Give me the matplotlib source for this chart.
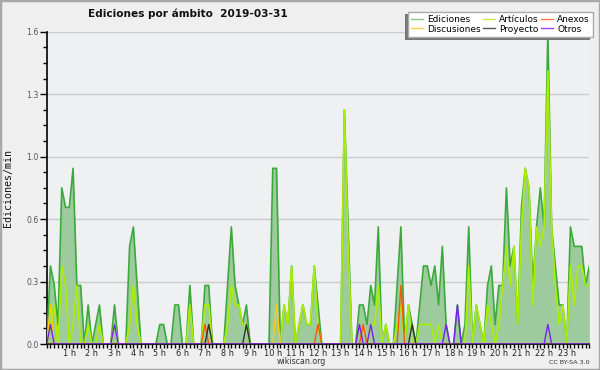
import matplotlib
matplotlib.use("Agg")
import matplotlib.pyplot as plt
from matplotlib.patches import Rectangle
from matplotlib.ticker import FixedLocator, MultipleLocator, FuncFormatter
import numpy as np

# ---- data (edits per minute, 10-minute bins, 0h .. 24h) ----
ediciones = [0, 0.4, 0.3, 0.1, 0.8, 0.7, 0.7, 0.9, 0.3, 0.3,
             0, 0.2, 0, 0.1, 0.2, 0, 0, 0, 0.2, 0,
             0, 0, 0.5, 0.6, 0.3, 0, 0, 0, 0, 0,
             0.1, 0.1, 0, 0, 0.2, 0.2, 0, 0, 0.3, 0,
             0, 0, 0.3, 0.3, 0, 0, 0, 0, 0.3, 0.6,
             0.3, 0.2, 0.1, 0.2, 0, 0, 0, 0, 0, 0,
             0.9, 0.9, 0, 0.2, 0.1, 0.4, 0, 0.1, 0.2, 0.1,
             0.1, 0.4, 0.2, 0, 0, 0, 0, 0, 0, 1.2,
             0.6, 0, 0, 0.2, 0.2, 0.1, 0.3, 0.2, 0.6, 0,
             0.1, 0, 0, 0.3, 0.6, 0, 0.2, 0.1, 0, 0.2,
             0.4, 0.4, 0.3, 0.4, 0.2, 0.5, 0.1, 0, 0, 0.2,
             0, 0.1, 0.6, 0, 0.2, 0.1, 0, 0.3, 0.4, 0.1,
             0.3, 0.3, 0.8, 0.4, 0.5, 0.1, 0.7, 0.9, 0.8, 0.3,
             0.6, 0.8, 0.6, 1.6, 0.6, 0.4, 0.2, 0.2, 0, 0.6,
             0.5, 0.5, 0.5, 0.3, 0.4]
articulos = [0, 0.1, 0.2, 0, 0.4, 0.3, 0, 0.1, 0.3, 0,
             0, 0.1, 0, 0, 0.1, 0, 0, 0, 0.1, 0,
             0, 0, 0.1, 0.3, 0.1, 0, 0, 0, 0, 0,
             0, 0, 0, 0, 0, 0, 0, 0, 0.2, 0,
             0, 0, 0.2, 0.2, 0, 0, 0, 0, 0.1, 0.3,
             0.2, 0.2, 0.1, 0.1, 0, 0, 0, 0, 0, 0,
             0, 0, 0, 0.2, 0.1, 0.4, 0, 0.1, 0.2, 0.1,
             0.1, 0.4, 0.1, 0, 0, 0, 0, 0, 0, 1.2,
             0.5, 0, 0, 0, 0, 0, 0.1, 0.1, 0.3, 0,
             0.1, 0, 0, 0.1, 0.2, 0, 0.2, 0, 0, 0.1,
             0.1, 0.1, 0.1, 0, 0.1, 0, 0, 0, 0, 0,
             0, 0, 0.4, 0, 0.2, 0.1, 0, 0.2, 0.1, 0,
             0.1, 0.3, 0.5, 0.3, 0.5, 0.1, 0.6, 0.9, 0.8, 0.2,
             0.6, 0.5, 0.6, 1.4, 0.6, 0.3, 0.1, 0.2, 0, 0.4,
             0.2, 0.4, 0.4, 0.3, 0.3]
discusiones = {1: 0.2, 61: 0.2}
anexos = {42: 0.1, 72: 0.1, 84: 0.1, 94: 0.3}
proyecto = {43: 0.1, 53: 0.1, 97: 0.1}
otros = {1: 0.1, 18: 0.1, 83: 0.1, 86: 0.1, 106: 0.1, 109: 0.2, 133: 0.1}

hour_labels = [f"{h} h" for h in range(1, 24)]
title = "Ediciones por ámbito  2019-03-31"

n = len(ediciones)
x = np.arange(n) / 6.0


def dense(d):
    arr = np.zeros(n)
    for k, v in d.items():
        arr[k] = v
    return arr


fig = plt.figure(figsize=(6, 3.7), dpi=100, facecolor="#efefef")
fig.patches.append(Rectangle((0, 0), 1, 1, transform=fig.transFigure,
                             fill=False, edgecolor="#a8a8a8", linewidth=2.5))
ax = fig.add_axes([46.7 / 600, 26 / 370, 542.6 / 600, 312.3 / 370])
ax.set_facecolor("#eef0f2")

ax.fill_between(x, ediciones, color="#9ecb9e", linewidth=0, zorder=2)
ax.plot(x, ediciones, color="#3aaa3a", lw=1.2, zorder=3)
ax.plot(x, articulos, color="#aaee00", lw=1.2, zorder=4)
ax.plot(x, dense(discusiones), color="#ffcc00", lw=1.0, zorder=5)
ax.plot(x, dense(anexos), color="#ff5500", lw=1.0, zorder=6)
ax.plot(x, dense(proyecto), color="#333333", lw=1.0, zorder=7)
ax.plot(x, dense(otros), color="#7722ee", lw=1.0, zorder=8)

ax.set_xlim(0, 24)
ax.set_ylim(0, 1.6)
for s in ["top", "right"]:
    ax.spines[s].set_visible(False)
ax.spines["left"].set_linewidth(1.2)
ax.spines["bottom"].set_linewidth(1.2)

ymaj = [0, 0.32, 0.64, 0.96, 1.28, 1.6]
ax.yaxis.set_major_locator(FixedLocator(ymaj))
ax.yaxis.set_minor_locator(MultipleLocator(0.08))
ax.yaxis.set_major_formatter(FuncFormatter(lambda v, p: f"{v:.1f}"))
ax.grid(axis="y", color="#cccccc", lw=1.0, zorder=1)
ax.tick_params(axis="y", which="major", length=5, width=1, labelsize=5.6,
               labelcolor="#555555", pad=1)
ax.tick_params(axis="y", which="minor", length=3, width=1)

ax.xaxis.set_major_locator(FixedLocator(range(1, 24)))
ax.xaxis.set_major_formatter(FuncFormatter(lambda v, p: hour_labels[int(round(v)) - 1]))
ax.xaxis.set_minor_locator(MultipleLocator(1 / 6))
ax.tick_params(axis="x", which="both", length=3, width=1, direction="out")
ax.tick_params(axis="x", which="major", labelsize=5.9, pad=0.5, labelcolor="#222222")

fig.text(8 / 600, 1 - 188 / 370, "Ediciones/min", rotation=90, va="center",
         ha="center", fontsize=7.2, family="DejaVu Sans Mono", color="#111111")
fig.text(188 / 600, 1 - 14 / 370, title, ha="center", va="center",
         fontsize=7.6, fontweight="bold", color="#111111")
fig.text(301 / 600, 1 - 361.5 / 370, "wikiscan.org", ha="center", va="center",
         fontsize=5.7, color="#333333")
fig.text(590 / 600, 1 - 362 / 370, "CC BY-SA 3.0", ha="right", va="center",
         fontsize=4.6, color="#333333")

handles = [
    plt.Line2D([], [], color="#88cc88", lw=1),
    plt.Line2D([], [], color="#ffcc44", lw=1),
    plt.Line2D([], [], color="#ccee44", lw=1),
    plt.Line2D([], [], color="#555555", lw=1),
    plt.Line2D([], [], color="#ff7744", lw=1),
    plt.Line2D([], [], color="#9944ee", lw=1),
]
labels = ["Ediciones", "Discusiones", "Artículos", "Proyecto", "Anexos", "Otros"]
leg = fig.legend(handles, labels, ncol=3, loc="upper right",
                 bbox_to_anchor=(593 / 600, 1 - 11.5 / 370), fontsize=6.5,
                 frameon=True, fancybox=False, edgecolor="#aaaaaa",
                 facecolor="white", framealpha=1, handlelength=1.3,
                 handletextpad=0.45, columnspacing=0.3, labelspacing=0.1,
                 borderpad=0.35, borderaxespad=0)
leg.get_frame().set_linewidth(1)
leg.set_zorder(20)
fig.canvas.draw()
bb = leg.get_window_extent().transformed(fig.transFigure.inverted())
fig.patches.append(Rectangle((bb.x0 - 3 / 600, bb.y0 - 3 / 370), bb.width, bb.height,
                             transform=fig.transFigure, facecolor="#777777",
                             edgecolor="none", zorder=19))

fig.savefig("out.png", dpi=100, facecolor=fig.get_facecolor())
